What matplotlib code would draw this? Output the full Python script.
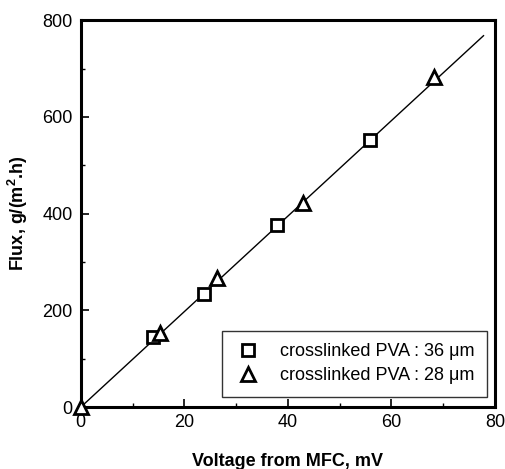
import matplotlib
matplotlib.use('Agg')

import matplotlib.pyplot as plt
import numpy as np

# data
sq_x = [13.9, 23.8, 37.9, 55.9]
sq_y = [145, 234, 376, 553]
tri_x = [0, 15.3, 26.3, 42.9, 68.3]
tri_y = [0, 154, 267, 422, 682]
fit_x = [0, 77.8]
slope = 9.87

plt.rcParams['font.family'] = ['Liberation Sans', 'DejaVu Sans']

fig = plt.figure(figsize=(5.05, 4.69), dpi=100)
ax = fig.add_axes([0.160, 0.132, 0.820, 0.825])

ax.plot(fit_x, [slope * v for v in fit_x], color='black', lw=1.0, zorder=2)
ax.plot(sq_x, sq_y, ls='none', marker='s', ms=9, mfc='white', mec='black',
        mew=2.0, label='crosslinked PVA : 36 \u03bcm', zorder=3)
ax.plot(tri_x, tri_y, ls='none', marker='^', ms=10, mfc='white', mec='black',
        mew=2.0, label='crosslinked PVA : 28 \u03bcm', zorder=3,
        clip_on=False)

ax.set_xlim(0, 80)
ax.set_ylim(0, 800)
ax.set_xticks([0, 20, 40, 60, 80])
ax.set_yticks([0, 200, 400, 600, 800])
ax.set_xticks(np.arange(0, 81, 10), minor=True)
ax.set_yticks(np.arange(0, 801, 100), minor=True)
ax.tick_params(which='major', direction='in', length=6, width=1.2, labelsize=13)
ax.tick_params(axis='x', which='major', pad=5)
ax.tick_params(axis='y', which='major', pad=6)
ax.tick_params(which='minor', direction='in', length=3, width=1.0)
for s in ax.spines.values():
    s.set_linewidth(2.2)

ax.set_xlabel('Voltage from MFC, mV', fontsize=13, fontweight='bold', labelpad=16)
ax.set_ylabel(r'Flux, g/(m$^{\mathregular{2}}$.h)', fontsize=13, fontweight='bold', labelpad=9)

leg = ax.legend(loc='lower right', bbox_to_anchor=(0.981, 0.026), borderaxespad=0,
                fontsize=13, frameon=True, fancybox=False, edgecolor='black',
                handletextpad=1.0, borderpad=0.7, labelspacing=0.4, handlelength=1.5)
leg.get_frame().set_linewidth(1.0)

fig.savefig('out.png', dpi=100)
